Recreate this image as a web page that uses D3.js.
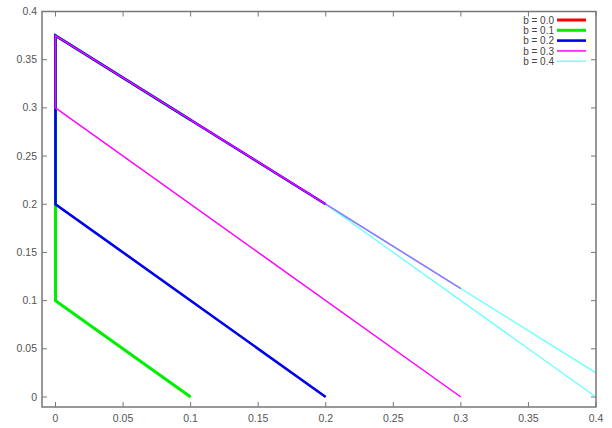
<!DOCTYPE html>
<html><head><meta charset="utf-8">
<script src="https://cdn.jsdelivr.net/npm/d3@7"></script>
<style>body{margin:0;background:#fff}svg{display:block}text{font-family:"Liberation Sans",Arial,sans-serif}</style>
</head><body>
<svg id="c" width="612" height="428"></svg>
<script>
const bLabels = ["b = 0.0","b = 0.1","b = 0.2","b = 0.3","b = 0.4"];
const colors = ["#ff0000","#00ee00","#0000ee","#ff00ff","#00ffff"];
const widths = [3,3,2.6,1.5,1.3];
const opac = [1,1,1,1,0.6];
// polylines for each b (x, y)
const s0x = [0, 0];           const s0y = [0.375, 0.375];
const s1x = [0.1, 0, 0, 0.1]; const s1y = [0, 0.1, 0.375, 0.2875];
const s2x = [0.2, 0, 0, 0.2]; const s2y = [0, 0.2, 0.375, 0.2];
const s3x = [0.3, 0, 0, 0.3]; const s3y = [0, 0.3, 0.375, 0.1125];
const s4x = [0.4, 0.2, 0.4];  const s4y = [0, 0.2, 0.025];
const seriesX = [s0x, s1x, s2x, s3x, s4x];
const seriesY = [s0y, s1y, s2y, s3y, s4y];
const xTicks = [0,0.05,0.1,0.15,0.2,0.25,0.3,0.35,0.4];
const xTickLabels = ["0","0.05","0.1","0.15","0.2","0.25","0.3","0.35","0.4"];
const yTicks = [0,0.05,0.1,0.15,0.2,0.25,0.3,0.35,0.4];
const yTickLabels = ["0","0.05","0.1","0.15","0.2","0.25","0.3","0.35","0.4"];

const svg = d3.select("#c");
const L = 42, R = 596, T = 11.5, B = 407;
const x = d3.scaleLinear().domain([0,0.4]).range([55.5,596]);
const y = d3.scaleLinear().domain([0,0.4]).range([397,11.5]);
const axCol = "#777";
const tl = 5;

const g = svg.append("g");
xTicks.forEach((t,i)=>{
  g.append("line").attr("x1",x(t)).attr("x2",x(t)).attr("y1",B).attr("y2",B-tl).attr("stroke",axCol).attr("stroke-width",1);
  g.append("line").attr("x1",x(t)).attr("x2",x(t)).attr("y1",T).attr("y2",T+tl).attr("stroke",axCol).attr("stroke-width",1);
  g.append("text").attr("x",x(t)).attr("y",B+15).attr("text-anchor","middle").attr("font-size",10.5).attr("fill","#555").text(xTickLabels[i]);
});
yTicks.forEach((t,i)=>{
  g.append("line").attr("x1",L).attr("x2",L+tl).attr("y1",y(t)).attr("y2",y(t)).attr("stroke",axCol).attr("stroke-width",1);
  g.append("line").attr("x1",R).attr("x2",R-tl).attr("y1",y(t)).attr("y2",y(t)).attr("stroke",axCol).attr("stroke-width",1);
  g.append("text").attr("x",37).attr("y",y(t)+3.5).attr("text-anchor","end").attr("font-size",10.5).attr("fill","#555").text(yTickLabels[i]);
});

const line = d3.line().x(d=>x(d[0])).y(d=>y(d[1]));
[0,1,2,3,4].forEach(i=>{
  const pts = seriesX[i].map((v,k)=>[v, seriesY[i][k]]);
  svg.append("path").attr("d",line(pts)).attr("fill","none").attr("stroke",colors[i])
    .attr("stroke-width",widths[i]).attr("stroke-opacity",opac[i]).attr("stroke-linejoin","miter");
});

svg.append("rect").attr("x",L).attr("y",T).attr("width",R-L).attr("height",B-T).attr("fill","none").attr("stroke",axCol).attr("stroke-width",1.5);

const lg = svg.append("g");
bLabels.forEach((lab,i)=>{
  const yy = 20 + i*10.3;
  lg.append("text").attr("x",554).attr("y",yy+3.6).attr("text-anchor","end").attr("font-size",10).attr("fill","#444").text(lab);
  lg.append("line").attr("x1",557).attr("x2",586).attr("y1",yy).attr("y2",yy).attr("stroke",colors[i]).attr("stroke-width",widths[i]).attr("stroke-opacity",opac[i]);
});
</script>
</body></html>
